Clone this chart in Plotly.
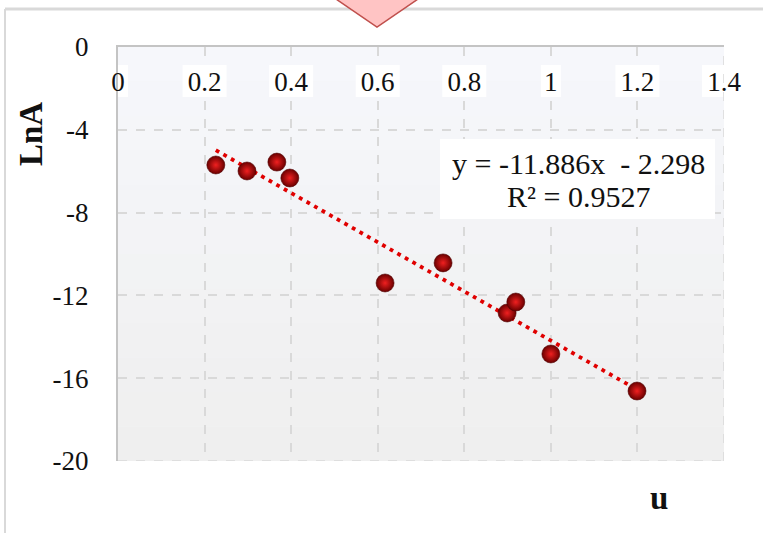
import plotly.graph_objects as go
import numpy as np

# data
u_values = [0.226, 0.298, 0.367, 0.397, 0.617, 0.751, 0.899, 0.919, 1.000, 1.199]
lnA_values = [-5.70, -5.99, -5.56, -6.33, -11.40, -10.43, -12.85, -12.32, -14.83, -16.62]
x_ticks = [0, 0.2, 0.4, 0.6, 0.8, 1, 1.2, 1.4]
x_tick_labels = ["0", "0.2", "0.4", "0.6", "0.8", "1", "1.2", "1.4"]
y_ticks = [0, -4, -8, -12, -16, -20]
y_tick_labels = ["0", "-4", "-8", "-12", "-16", "-20"]
slope = -11.886
intercept = -2.298
equation_line1 = "y = -11.886x  - 2.298"
equation_line2 = "R² = 0.9527"

FONT = "Liberation Serif, Times New Roman, serif"

W, H = 763, 533
L, R, T, B = 118, 39, 47, 72
pw, ph = W - L - R, H - T - B
XMAX, YMIN = 1.4, -20.0
def px(xp): return (xp - L) / pw
def py(yp): return (H - B - yp) / ph
def dx(xp): return px(xp) * XMAX
def dy(yp): return YMIN + py(yp) * (0 - YMIN)

fig = go.Figure()

# trendline from the fitted equation
tx = [min(u_values), max(u_values)]
ty = [slope * v + intercept for v in tx]
fig.add_trace(go.Scatter(x=tx, y=ty, mode="lines", xaxis="x", yaxis="y",
                         line=dict(color="#e00000", width=3.8, dash="3.8px,4.9px"),
                         hoverinfo="skip", showlegend=False))

fig.add_trace(go.Scatter(x=u_values, y=lnA_values, mode="markers", xaxis="x2", yaxis="y",
                         marker=dict(size=18, color="#6a0000",
                                     gradient=dict(type="radial", color="#f02020"),
                                     line=dict(color="#500000", width=0.6)),
                         showlegend=False))

shapes = []
# plot background gradient bands
n = 12
top = np.array([0xf6, 0xf7, 0xfb])
bot = np.array([0xef, 0xef, 0xef])
for i in range(n):
    t = i / (n - 1)
    c = (top * (1 - t) + bot * t).round().astype(int)
    shapes.append(dict(type="rect", xref="x domain", yref="y domain",
                       x0=0, x1=1, y0=1 - (i + 1) / n, y1=1 - i / n,
                       fillcolor="rgb(%d,%d,%d)" % tuple(c), line=dict(width=0),
                       layer="below"))

# white boxes behind the x tick labels
units_per_px = XMAX / pw
for tv, tl in zip(x_ticks, x_tick_labels):
    half = (4 + 6 * len(tl)) * units_per_px
    shapes.append(dict(type="rect", xref="x", yref="y",
                       x0=tv - half, x1=tv + half, y0=dy(97), y1=dy(65),
                       fillcolor="white", line=dict(width=0), layer="between"))

# equation box
shapes.append(dict(type="rect", xref="x", yref="y",
                   x0=dx(440), x1=dx(715), y0=dy(219), y1=dy(139),
                   fillcolor="white", line=dict(width=0), layer="between"))

# right and bottom dashed grid edges
shapes.append(dict(type="line", xref="x", yref="y", x0=XMAX, x1=XMAX, y0=YMIN, y1=0,
                   line=dict(color="#d9d9d9", width=1.5, dash="dash"), layer="between"))
shapes.append(dict(type="line", xref="x", yref="y", x0=0, x1=XMAX, y0=YMIN, y1=YMIN,
                   line=dict(color="#d9d9d9", width=1.5, dash="dash"), layer="between"))

# chart frame lines and decorative triangle
shapes.append(dict(type="line", xref="paper", yref="paper",
                   x0=px(5), x1=px(763), y0=py(9), y1=py(9),
                   line=dict(color="#d9d9d9", width=3)))
shapes.append(dict(type="line", xref="paper", yref="paper",
                   x0=px(5), x1=px(5), y0=py(9), y1=py(540),
                   line=dict(color="#d9d9d9", width=2)))
shapes.append(dict(type="path", xref="paper", yref="paper",
                   path="M %f %f L %f %f L %f %f Z" % (px(333), py(-3), px(377), py(27), px(421), py(-3)),
                   fillcolor="#ffc4c4", line=dict(color="#c0504d", width=1.5)))

axis_common = dict(range=[0, XMAX], tickvals=x_ticks, ticktext=x_tick_labels, fixedrange=True,
                   zeroline=False)

fig.update_layout(
    width=W, height=H,
    margin=dict(l=L, r=R, t=T, b=B, autoexpand=False),
    paper_bgcolor="white", plot_bgcolor="#f3f4f6",
    font=dict(family=FONT, size=27, color="#111111"),
    shapes=shapes,
    xaxis=dict(**axis_common, side="top", showticklabels=False, ticks="",
               showline=True, linecolor="#c4c4c4", linewidth=2,
               showgrid=True, gridcolor="#d9d9d9", griddash="dash", gridwidth=1.5),
    xaxis2=dict(**axis_common, overlaying="x", anchor="free", position=1, side="bottom",
                showticklabels=True, ticks="", ticklabelstandoff=16,
                showline=False, showgrid=False),
    yaxis=dict(range=[YMIN, 0], tickvals=y_ticks, ticktext=y_tick_labels,
               ticks="", ticklabelstandoff=22,
               showline=True, linecolor="#c4c4c4", linewidth=2,
               showgrid=True, gridcolor="#d9d9d9", griddash="dash", gridwidth=1.5,
               zeroline=False, fixedrange=True),
    annotations=[
        dict(text=equation_line1, xref="paper", yref="paper", x=px(578), y=py(163),
             xanchor="center", yanchor="middle", showarrow=False,
             font=dict(size=30, family=FONT)),
        dict(text=equation_line2, xref="paper", yref="paper", x=px(578), y=py(196),
             xanchor="center", yanchor="middle", showarrow=False,
             font=dict(size=30, family=FONT)),
        dict(text="<b>LnA</b>", xref="paper", yref="paper", x=px(31), y=py(134),
             xanchor="center", yanchor="middle",
             textangle=-90, showarrow=False, font=dict(size=33, family=FONT)),
        dict(text="<b>u</b>", xref="paper", yref="paper", x=px(659), y=py(498),
             xanchor="center", yanchor="middle",
             showarrow=False, font=dict(size=33, family=FONT)),
    ],
)

fig.write_html("out.html", config={"displayModeBar": False},
               post_script="document.body.style.margin='0';")
